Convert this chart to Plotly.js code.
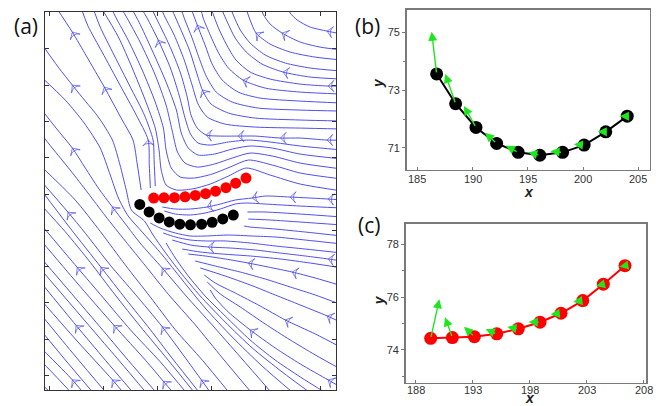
<!DOCTYPE html>
<html><head><meta charset="utf-8">
<script src="https://cdn.plot.ly/plotly-3.0.1.min.js"></script>
<style>html,body{margin:0;padding:0;background:#fff}#chart{width:660px;height:406px}</style>
</head><body><div id="chart"></div>
<script>
// ---- Panel (b): black trajectory and its green direction arrows ----
const blackX = [186.75, 188.47, 190.31, 192.18, 194.13, 196.09, 198.15, 200.10, 202.06, 204.00];
const blackY = [73.56, 72.53, 71.71, 71.16, 70.85, 70.75, 70.85, 71.10, 71.56, 72.10];
const blackTipX = [186.30, 187.53, 189.22, 191.12, 193.02, 195.04, 197.06, 199.17, 201.33, 203.33];
const blackTipY = [75.02, 73.56, 72.45, 71.53, 71.08, 70.85, 70.89, 71.13, 71.56, 72.10];
// ---- Panel (c): red trajectory and its green direction arrows ----
const redX = [189.31, 191.21, 193.14, 195.10, 196.99, 198.89, 200.73, 202.64, 204.44, 206.34];
const redY = [74.44, 74.47, 74.50, 74.61, 74.80, 75.05, 75.39, 75.87, 76.49, 77.19];
const redTipX = [190.07, 190.57, 192.23, 194.13, 196.03, 197.90, 199.83, 201.81, 203.80, 205.84];
const redTipY = [75.92, 75.24, 74.88, 74.78, 74.87, 75.06, 75.35, 75.83, 76.42, 77.15];
// ---- tick values ----
const aTicksX = [170, 180, 190, 200, 210, 220];
const aTicksY = [50, 55, 60, 65, 70, 75, 80, 85, 90, 95];
const bTicksX = [185, 190, 195, 200, 205];
const bTicksY = [71, 73, 75];
const bMinorY = [72, 74];
const cTicksX = [188, 193, 198, 203, 208];
const cTicksY = [74, 76, 78];
const cMinorY = [73, 75, 77];
// ---- Panel (a): streamlines (points in flow order) and arrow vertex indices ----
const streamX = [
[170.8,168.6],
[174.5,171.5,168.4],
[176.7,174.3,168.4],
[178.5,173.5,168.4],
[180.9,174.8,168.4],
[184.1,181.7,175.0,168.4],
[185.9,180.4,175.0,168.4],
[188.3,183.1,178.5,168.4],
[190.2,184.6,179.4,168.4],
[193.3,191.1,187.8,182.0,175.0,168.4],
[195.7,190.5,185.0,180.0,175.2,168.4],
[197.2,192.0,186.8,182.2,177.6,173.0,168.4],
[198.1,192.7,188.7,184.2,179.6,173.9,168.4],
[200.1,198.1,190.9,185.9,181.3,176.7,173.5,168.4],
[203.6,198.3,193.3,188.7,184.1,179.5,174.8,168.4],
[207.5,202.0,197.0,192.0,187.8,184.1,180.4,177.2,173.9,170.6,168.4],
[211.2,205.3,200.1,195.3,190.9,186.8,184.1,181.7,179.1,176.7,174.3,171.3,168.4],
[215.2,209.3,203.8,198.8,194.6,190.9,187.2,184.6,182.8,181.3,179.45,176.5,173.0,168.4],
[218.4,213.0,207.5,202.5,197.9,194.2,191.4,189.2,187.6,185.2,184.25,183.1,181.7,179.1,176.7,174.3,171.7,168.4],
[221.3,216.35,211.7,207.1,202.5,198.8,195.7,193.3,191.6],
[187.0,186.3,185.5,183.5,180.2,176.9,174.3,171.15],
[188.7,188.5,188.3,186.1,183.1,179.8,177.2,175.8],
[189.6,189.4,189.2,187.6,185.0,182.0,179.45,178.0],
[224.1,216.35,210.8,206.4,203.1,199.75,196.4,193.5,191.6,190.7,190.3,189.6,187.75,185.35,182.8,179.45],
[224.1,216.35,211.2,206.8,203.4,200.1,196.8,194.2,192.55,191.6,191.1,189.6,187.2,184.6,182.4,181.3],
[224.1,216.35,211.2,207.1,203.8,200.5,197.35,195.1,193.7,192.7,191.6,189.6,186.8,184.4,183.1],
[224.1,216.35,211.2,207.1,203.8,200.5,197.5,195.7,194.4,193.5,191.6,189.0,186.6,185.0],
[224.1,216.35,210.8,206.8,203.1,199.75,197.5,196.1,195.1,194.0,192.4,190.15,188.1,186.8],
[224.1,221.3,216.35,212.7,208.05,204.9,201.6,199.0,197.35,196.2,195.5,194.2,192.2,190.15,188.7],
[224.1,216.35,208.05,202.5,199.2,197.5,196.4,194.95,193.1,191.4,190.5],
[224.1,216.35,208.05,203.1,199.9,198.3,197.2,195.9,194.2,192.4],
[224.1,216.35,208.6,203.8,200.85,199.0,197.7,196.4,194.95,194.2],
[224.1,216.35,208.97,204.9,201.96,200.1,198.8,197.35,196.06],
[224.1,216.35,209.9,205.8,203.1,201.2,199.75,198.45,197.9],
[224.1,221.5,216.35,210.8,207.1,204.5,202.7,201.2,199.75],
[224.1,218.2,213.2,209.3,206.4,204.35,202.9,201.6],
[224.1,218.2,213.6,209.9,207.1,205.3,204.0,203.4],
[224.1,219.1,214.5,210.8,208.2,207.1,206.2],
[224.1,220.0,216.35,213.0,210.8,209.5,209.0],
[224.1,221.3,218.2,215.8,214.5,213.95],
[224.1,221.5,214.5,209.9,207.5,204.35,201.6,199.2,196.06,193.3,190.9],
[224.1,216.35,209.9,206.4,204.35,201.6,198.8,196.06,193.3,191.26],
[224.1,216.35,209.9,206.6],
[224.1,216.35,210.8,206.76],
[224.1,217.3,211.7,207.1,206.0],
[224.1,217.3,211.7,207.5,203.1,198.8,196.06,193.3,190.5,188.7],
[224.1,217.27,211.74,207.13,202.51,198.82,196.06,193.29,191.07],
[224.1,221.52,217.27,212.66,208.05,203.44,199.38,196.06,192.73],
[224.1,218.2,212.66,207.13,201.96,197.9,194.58],
[224.1,219.12,214.87,210.45,206.76,202.51,198.82,195.69],
[224.1,219.12,214.51,209.89,205.28,200.67,196.98],
[224.1,221.33,216.35,211.74,207.13,202.51,197.9],
[224.1,219.12,213.58,208.97,204.36,200.67,198.64],
[224.1,219.12,214.51,209.89,205.28,201.59,199.19],
[224.1,221.52,216.35,211.74,207.13,203.07,200.67,199.75]
];
const streamY = [
[47.3,48.8],
[47.3,49.7,52.1],
[47.3,49.4,53.9],
[47.3,51.7,56.3],
[47.3,52.7,58.5],
[47.3,49.4,54.9,60.5],
[47.3,52.1,56.9,62.9],
[47.3,51.9,55.9,64.7],
[47.3,52.1,56.7,66.3],
[47.3,49.2,52.1,56.9,62.9,68.7],
[47.3,51.9,56.3,60.7,64.9,70.9],
[47.3,52.1,56.8,61.1,65.6,69.8,73.6],
[47.3,52.4,56.3,60.5,64.9,70.3,75.7],
[47.3,49.4,56.7,61.2,65.2,69.6,72.5,76.9],
[47.3,52.1,56.3,60.8,65.2,69.8,74.2,78.9],
[47.5,52.4,56.96,61.2,65.1,68.5,71.97,75.13,78.3,81.33,83.4],
[47.5,52.55,56.96,60.95,64.8,68.25,70.87,73.21,75.82,78.58,81.33,84.08,86.84],
[47.5,51.31,55.3,59.3,63.15,66.6,69.76,71.97,74.45,77.61,81.33,84.77,87.94,91.24],
[47.5,50.49,53.79,57.37,60.95,64.25,67.01,69.35,71.28,72.79,75.55,78.99,82.43,85.6,87.8,90.0,92.48,95.93],
[47.5,49.8,52.14,54.89,58.2,60.95,63.7,66.18,68.25],
[75.55,78.99,82.43,85.19,89.73,94.0,97.3,100.88],
[75.82,78.99,82.43,85.87,90.0,94.55,98.13,100.88],
[76.1,79.4,82.43,85.87,89.73,94.14,97.99,100.88],
[75.41,76.37,77.61,78.58,77.47,76.37,75.69,75.55,76.24,78.3,81.06,84.08,87.94,92.35,96.62,100.88],
[77.06,77.89,78.99,79.68,78.71,77.75,77.2,77.34,78.58,81.06,84.08,87.66,92.07,96.2,99.23,100.88],
[78.44,79.26,80.23,80.64,79.95,79.13,78.71,79.26,80.78,83.81,87.25,91.38,95.93,99.23,100.88],
[79.82,80.5,81.33,81.61,81.19,80.5,80.37,81.33,83.4,86.56,90.42,94.83,98.68,100.88],
[81.06,81.61,82.16,82.43,82.16,81.74,82.02,83.26,85.46,88.63,92.35,96.2,99.23,100.88],
[82.43,82.43,82.71,82.71,82.98,82.98,82.98,83.12,84.08,85.87,88.35,91.8,95.51,98.68,100.88],
[83.95,84.08,84.22,84.63,85.6,87.39,90.0,93.45,96.89,99.37,100.88],
[85.05,85.19,85.46,86.15,87.39,89.32,91.8,94.83,97.85,100.88],
[86.42,86.56,86.84,87.66,89.04,91.24,93.72,96.48,99.23,100.88],
[87.53,87.8,88.21,89.04,90.69,92.9,95.51,98.27,100.88],
[88.77,89.04,89.59,90.69,92.35,94.55,96.89,99.23,100.88],
[89.87,89.87,90.14,90.83,91.8,93.45,95.65,97.99,100.88],
[90.83,91.11,91.8,92.9,94.55,96.48,98.68,100.88],
[91.93,92.35,93.04,94.14,95.79,97.58,99.64,100.88],
[93.45,93.86,94.55,95.65,97.17,98.96,100.88],
[94.83,95.24,95.93,97.17,98.41,99.78,100.88],
[97.03,97.44,97.99,98.96,99.92,100.88],
[74.17,74.31,74.58,74.72,74.45,74.17,73.62,73.21,72.93,72.93,73.21],
[73.07,73.34,73.62,73.76,73.62,72.93,72.38,72.11,72.24,72.66],
[71.83,72.24,72.52,72.52],
[70.73,71.14,71.42,71.55],
[69.21,69.76,70.18,70.45,70.59],
[68.11,68.66,69.08,69.21,69.35,69.21,69.21,69.63,70.31,71.0],
[66.87,67.42,67.84,68.25,68.53,68.53,68.66,69.08,69.63],
[65.77,66.05,66.46,66.87,67.29,67.56,67.70,67.98,68.66],
[64.81,65.49,66.05,66.46,66.73,67.01,67.42],
[62.33,63.43,64.25,64.94,65.49,66.05,66.46,66.73],
[59.71,61.09,62.19,63.29,64.25,65.08,65.77],
[57.23,58.2,59.71,61.09,62.47,63.7,64.81],
[53.79,55.72,57.65,59.57,61.36,62.74,63.84],
[50.76,52.83,54.89,57.09,59.44,61.23,62.88],
[48.28,49.38,51.59,53.79,56.27,58.75,60.68,61.78]
];
const streamArrows = [
[],[],[1],[],[],[1],[2],[],[],[1,3],[4],[],[4],[1,2,6],[],
[],[4,7,10],[],[15],[],
[4,6],[2],[],
[],[],[],[],[11],[1,3,5,7],
[],[5],[],[7],[3],[1],[2],[],[4],[3],[1],
[1,2,4,7],[],[],[],[],[],[],[1,6],[],[2,4],[],[1],[2],[],[1,4]
];

const blue = '#4f4ff0';
const green = '#1ee61e';
const traces = [];
for (let i = 0; i < streamX.length; i++) {
  const sizes = streamX[i].map((_, j) => streamArrows[i].includes(j) ? 8 : 0);
  traces.push({
    type: 'scatter', mode: 'lines+markers', x: streamX[i], y: streamY[i], xaxis: 'x', yaxis: 'y',
    line: {color: blue, width: 1, shape: 'spline', smoothing: 0.7},
    marker: {symbol: 'arrow-wide-open', size: sizes, angleref: 'previous', color: blue, line: {color: blue, width: 1}},
    hoverinfo: 'skip', showlegend: false
  });
}
// dots in panel (a)
traces.push({type:'scatter', mode:'markers', x: blackX, y: blackY, xaxis:'x', yaxis:'y',
  marker:{color:'#000', size:11}, showlegend:false, hoverinfo:'skip'});
traces.push({type:'scatter', mode:'markers', x: redX, y: redY, xaxis:'x', yaxis:'y',
  marker:{color:'#ff0000', size:11}, showlegend:false, hoverinfo:'skip'});
// panel (b)
traces.push({type:'scatter', mode:'lines+markers', x: blackX, y: blackY, xaxis:'x2', yaxis:'y2',
  line:{color:'#000', width:2}, marker:{color:'#000', size:13}, showlegend:false, hoverinfo:'skip'});
// panel (c)
traces.push({type:'scatter', mode:'lines+markers', x: redX, y: redY, xaxis:'x3', yaxis:'y3',
  line:{color:'#ff0000', width:2}, marker:{color:'#ff0000', size:13}, showlegend:false, hoverinfo:'skip'});

const annotations = [];
for (let i = 0; i < blackX.length; i++) {
  annotations.push({x: blackTipX[i], y: blackTipY[i], ax: blackX[i], ay: blackY[i],
    xref:'x2', yref:'y2', axref:'x2', ayref:'y2', showarrow:true, text:'',
    arrowhead:2, arrowsize:1.3, arrowwidth:1.4, arrowcolor: green, standoff:0});
}
for (let i = 0; i < redX.length; i++) {
  annotations.push({x: redTipX[i], y: redTipY[i], ax: redX[i], ay: redY[i],
    xref:'x3', yref:'y3', axref:'x3', ayref:'y3', showarrow:true, text:'',
    arrowhead:2, arrowsize:1.3, arrowwidth:1.4, arrowcolor: green, standoff:0});
}
const lab = {family:'Open Sans, Liberation Sans, sans-serif', size:21, color:'#111'};
const mid = {xanchor:'center', yanchor:'middle', showarrow:false, xref:'paper', yref:'paper'};
annotations.push(Object.assign({text:'(a)', x:0.0394, y:0.936, font:lab}, mid));
annotations.push(Object.assign({text:'(b)', x:0.557, y:0.935, font:lab}, mid));
annotations.push(Object.assign({text:'(c)', x:0.559, y:0.446, font:lab}, mid));
const tfont = {family:'Liberation Sans, Arial, sans-serif', size:14, color:'#222'};
annotations.push(Object.assign({text:'<b><i>y</i></b>', x:0.5727, y:0.7956, textangle:-90, font:tfont}, mid));
annotations.push(Object.assign({text:'<b><i>x</i></b>', x:0.802, y:0.5283, height:10, font:tfont}, mid));
annotations.push(Object.assign({text:'<b><i>y</i></b>', x:0.5747, y:0.2611, textangle:-90, font:tfont}, mid));
annotations.push(Object.assign({text:'<b><i>x</i></b>', x:0.803, y:0.0209, height:10, font:tfont}, mid));

const tickFont = {family:'Liberation Sans, Arial, sans-serif', size:11, color:'#333'};
// x tick labels of (b) and (c), placed at their tick values just below each frame
for (const v of bTicksX) {
  annotations.push({text:String(v), x:v, xref:'x2', y:0.5615, yref:'paper', xanchor:'center', yanchor:'middle',
    height:11, showarrow:false, font:tickFont});
}
for (const v of cTicksX) {
  annotations.push({text:String(v), x:v, xref:'x3', y:0.0406, yref:'paper', xanchor:'center', yanchor:'middle',
    height:11, showarrow:false, font:tickFont});
}
const frameA = {showline:true, mirror:'ticks', linecolor:'#333', linewidth:1, ticks:'inside', ticklen:4,
  tickcolor:'#333', showticklabels:false, showgrid:false, zeroline:false};
const frameBC = {showline:true, mirror:true, linecolor:'#7a7a7a', linewidth:1.5, ticks:'outside', ticklen:3,
  tickcolor:'#7a7a7a', tickfont:tickFont, showgrid:false, zeroline:false};
const xBC = {ticks:'inside', ticklen:3, showticklabels:false};

const layout = {
  width:660, height:406, margin:{l:0, r:0, t:0, b:0}, paper_bgcolor:'#fff', plot_bgcolor:'#fff',
  showlegend:false,
  xaxis: Object.assign({}, frameA, {domain:[0.0682, 0.5091], range:[169.26, 222.95], tickvals:aTicksX, anchor:'y'}),
  yaxis: Object.assign({}, frameA, {domain:[0.0394, 0.9704], range:[48.0, 100.07], tickvals:aTicksY, anchor:'x'}),
  xaxis2: Object.assign({}, frameBC, xBC, {domain:[0.6162, 0.9848], range:[184.04, 206.06], tickvals:bTicksX, anchor:'y2'}),
  yaxis2: Object.assign({}, frameBC, {domain:[0.5813, 0.9754], range:[70.24, 75.77], tickvals:bTicksY, anchor:'x2',
    minor:{tickvals:bMinorY, ticks:'outside', ticklen:2, tickcolor:'#7a7a7a'}}),
  xaxis3: Object.assign({}, frameBC, xBC, {domain:[0.6147, 0.9788], range:[187.12, 208.18], tickvals:cTicksX, anchor:'y3'}),
  yaxis3: Object.assign({}, frameBC, {domain:[0.0574, 0.4483], range:[72.76, 78.77], tickvals:cTicksY, anchor:'x3',
    minor:{tickvals:cMinorY, ticks:'outside', ticklen:2, tickcolor:'#7a7a7a'}}),
  annotations: annotations
};
Plotly.newPlot('chart', traces, layout, {staticPlot:true, displayModeBar:false});
</script>
</body></html>
